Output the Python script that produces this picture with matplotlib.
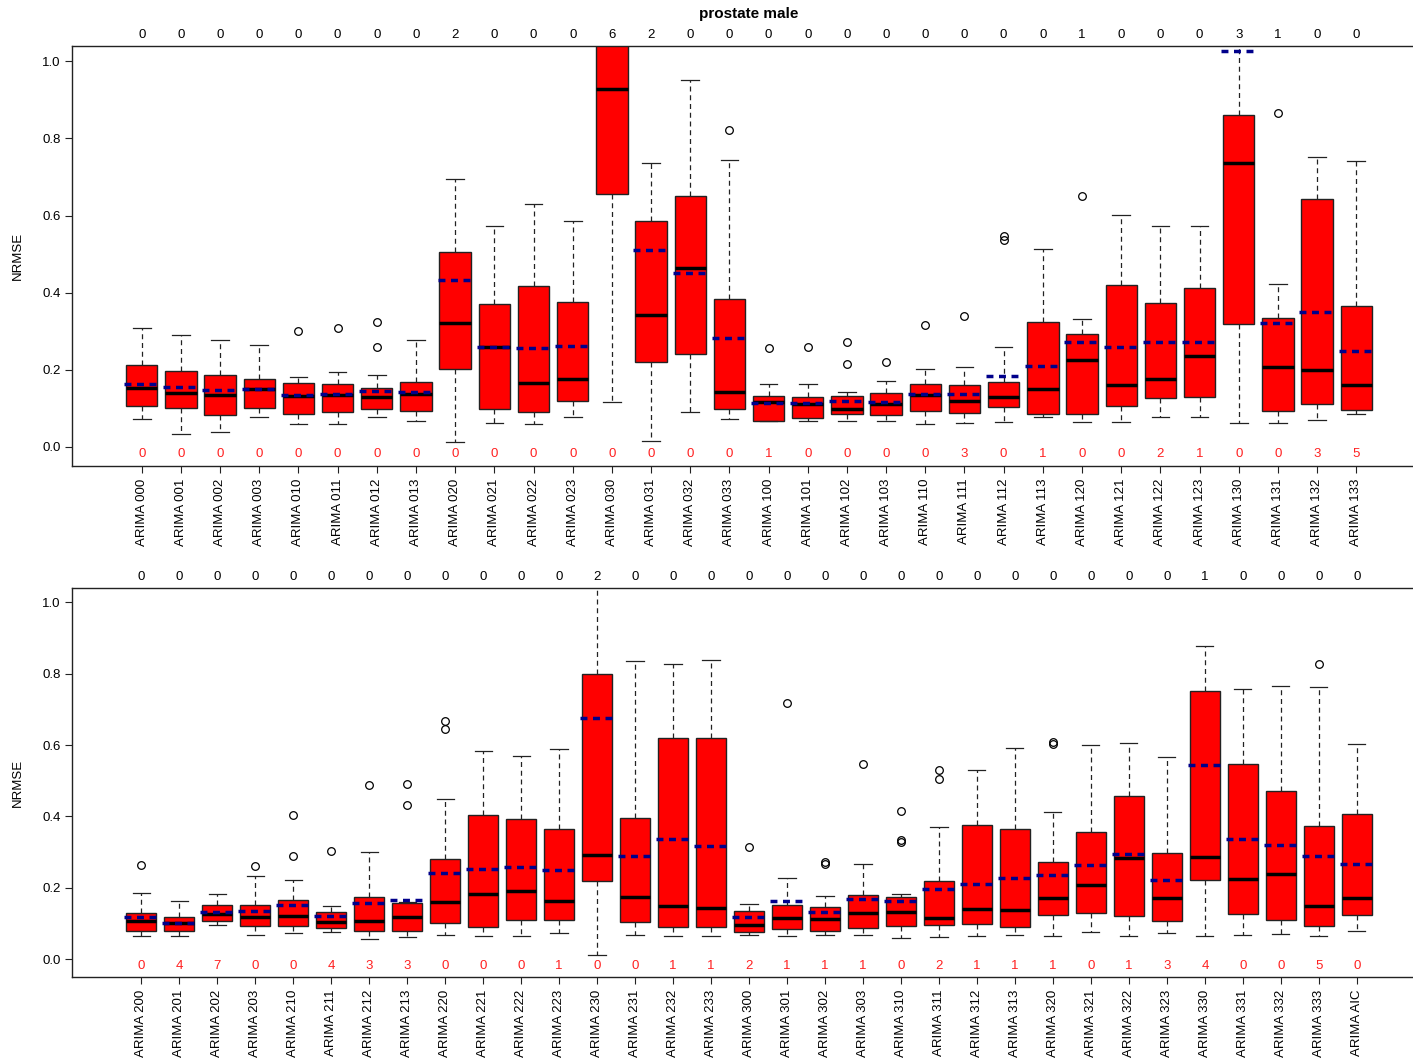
import numpy as np
import matplotlib
matplotlib.use('Agg')
import matplotlib.pyplot as plt
import matplotlib.transforms as mtransforms

plt.rcParams['font.family'] = ['Liberation Sans', 'DejaVu Sans']

# ---- top panel: ARIMA 0xx / 1xx ----
names_top = ['000', '001', '002', '003', '010', '011', '012', '013',
             '020', '021', '022', '023', '030', '031', '032', '033',
             '100', '101', '102', '103', '110', '111', '112', '113',
             '120', '121', '122', '123', '130', '131', '132', '133']
whishi_top = [0.307, 0.290, 0.278, 0.264, 0.180, 0.194, 0.186, 0.277,
              0.695, 0.574, 0.631, 0.587, 1.600, 0.736, 0.952, 0.744,
              0.163, 0.163, 0.143, 0.170, 0.202, 0.206, 0.260, 0.513,
              0.331, 0.602, 0.572, 0.574, 1.300, 0.423, 0.752, 0.741]
q3_top = [0.213, 0.197, 0.187, 0.176, 0.165, 0.164, 0.152, 0.168,
          0.505, 0.370, 0.417, 0.376, 1.120, 0.586, 0.650, 0.383,
          0.131, 0.128, 0.131, 0.139, 0.163, 0.160, 0.168, 0.323,
          0.292, 0.420, 0.374, 0.412, 0.861, 0.334, 0.644, 0.365]
med_top = [0.152, 0.139, 0.133, 0.150, 0.132, 0.133, 0.129, 0.138,
           0.321, 0.258, 0.165, 0.177, 0.928, 0.343, 0.464, 0.141,
           0.117, 0.110, 0.098, 0.112, 0.133, 0.118, 0.128, 0.150,
           0.226, 0.159, 0.177, 0.236, 0.737, 0.208, 0.198, 0.161]
mean_top = [0.163, 0.154, 0.148, 0.150, 0.133, 0.137, 0.144, 0.142,
            0.433, 0.258, 0.256, 0.261, 1.080, 0.511, 0.452, 0.283,
            0.114, 0.113, 0.119, 0.116, 0.138, 0.138, 0.184, 0.209,
            0.272, 0.258, 0.272, 0.273, 1.027, 0.322, 0.349, 0.248]
q1_top = [0.105, 0.101, 0.083, 0.100, 0.085, 0.090, 0.098, 0.094,
          0.203, 0.099, 0.091, 0.119, 0.656, 0.221, 0.240, 0.098,
          0.067, 0.075, 0.084, 0.083, 0.093, 0.087, 0.102, 0.086,
          0.086, 0.106, 0.127, 0.130, 0.318, 0.092, 0.110, 0.096]
whislo_top = [0.073, 0.034, 0.037, 0.076, 0.059, 0.059, 0.076, 0.068,
              0.013, 0.062, 0.060, 0.078, 0.115, 0.016, 0.089, 0.073,
              0.066, 0.067, 0.067, 0.068, 0.060, 0.061, 0.063, 0.078,
              0.063, 0.064, 0.078, 0.078, 0.061, 0.061, 0.070, 0.085]
fliers_top = [[], [], [], [], [0.301], [0.308], [0.323, 0.258], [],
              [], [], [], [], [], [], [], [0.822],
              [0.257], [0.260], [0.271, 0.214], [0.221], [0.315], [0.340], [0.546, 0.537], [],
              [0.650], [], [], [], [], [0.867], [], []]
above_top = [0, 0, 0, 0, 0, 0, 0, 0, 2, 0, 0, 0, 6, 2, 0, 0,
             0, 0, 0, 0, 0, 0, 0, 0, 1, 0, 0, 0, 3, 1, 0, 0]
below_top = [0, 0, 0, 0, 0, 0, 0, 0, 0, 0, 0, 0, 0, 0, 0, 0,
             1, 0, 0, 0, 0, 3, 0, 1, 0, 0, 2, 1, 0, 0, 3, 5]

# ---- bottom panel: ARIMA 2xx / 3xx / AIC ----
names_bot = ['200', '201', '202', '203', '210', '211', '212', '213',
             '220', '221', '222', '223', '230', '231', '232', '233',
             '300', '301', '302', '303', '310', '311', '312', '313',
             '320', '321', '322', '323', '330', '331', '332', '333', 'AIC']
whishi_bot = [0.184, 0.164, 0.182, 0.234, 0.222, 0.149, 0.299, 0.160,
              0.449, 0.582, 0.569, 0.589, 1.200, 0.835, 0.827, 0.838,
              0.155, 0.227, 0.176, 0.266, 0.183, 0.370, 0.530, 0.592,
              0.411, 0.601, 0.605, 0.566, 0.877, 0.758, 0.766, 0.762, 0.602]
q3_bot = [0.128, 0.119, 0.152, 0.151, 0.165, 0.131, 0.175, 0.158,
          0.280, 0.403, 0.392, 0.366, 0.800, 0.396, 0.619, 0.621,
          0.134, 0.153, 0.146, 0.181, 0.174, 0.219, 0.376, 0.365,
          0.273, 0.357, 0.458, 0.298, 0.750, 0.546, 0.472, 0.373, 0.406]
med_bot = [0.107, 0.100, 0.127, 0.117, 0.122, 0.105, 0.107, 0.117,
           0.159, 0.182, 0.190, 0.162, 0.292, 0.175, 0.148, 0.143,
           0.095, 0.114, 0.112, 0.129, 0.131, 0.114, 0.140, 0.139,
           0.170, 0.208, 0.283, 0.172, 0.287, 0.225, 0.238, 0.150, 0.170]
mean_bot = [0.117, 0.101, 0.132, 0.134, 0.153, 0.122, 0.156, 0.165,
            0.242, 0.252, 0.259, 0.249, 0.677, 0.289, 0.338, 0.317,
            0.118, 0.163, 0.131, 0.169, 0.164, 0.196, 0.210, 0.228,
            0.235, 0.263, 0.296, 0.221, 0.543, 0.338, 0.321, 0.289, 0.266]
q1_bot = [0.079, 0.079, 0.106, 0.094, 0.092, 0.087, 0.078, 0.080,
          0.100, 0.091, 0.109, 0.109, 0.220, 0.103, 0.091, 0.091,
          0.077, 0.085, 0.078, 0.088, 0.094, 0.096, 0.098, 0.091,
          0.124, 0.129, 0.120, 0.107, 0.223, 0.126, 0.111, 0.094, 0.125]
whislo_bot = [0.065, 0.066, 0.096, 0.069, 0.072, 0.076, 0.056, 0.061,
              0.067, 0.064, 0.064, 0.072, 0.011, 0.067, 0.064, 0.064,
              0.069, 0.065, 0.067, 0.068, 0.060, 0.063, 0.066, 0.069,
              0.064, 0.076, 0.064, 0.074, 0.064, 0.068, 0.070, 0.065, 0.078]
fliers_bot = [[0.263], [], [], [0.260], [0.404, 0.289], [0.303], [0.487], [0.492, 0.431],
              [0.667, 0.645], [], [], [], [], [], [], [],
              [0.314], [0.719], [0.273, 0.268], [0.548], [0.415, 0.335, 0.328],
              [0.529, 0.505], [], [],
              [0.608, 0.602], [], [], [], [], [], [], [0.827], []]
above_bot = [0, 0, 0, 0, 0, 0, 0, 0, 0, 0, 0, 0, 2, 0, 0, 0,
             0, 0, 0, 0, 0, 0, 0, 0, 0, 0, 0, 0, 1, 0, 0, 0, 0]
below_bot = [0, 4, 7, 0, 0, 4, 3, 3, 0, 0, 0, 1, 0, 0, 1, 1,
             2, 1, 1, 1, 0, 2, 1, 1, 1, 0, 1, 3, 4, 0, 0, 5, 0]

W, H = 1413, 1060
fig = plt.figure(figsize=(W / 100, H / 100), dpi=100)


def panel(rect, names, q1, med, q3, wlo, whi, means, fliers, above, below):
    ax = fig.add_axes(rect)
    n = len(names)
    pos = np.arange(n)
    stats = []
    for i in range(n):
        stats.append(dict(med=med[i], q1=q1[i], q3=q3[i], whislo=wlo[i],
                          whishi=whi[i], fliers=fliers[i]))
    ax.bxp(stats, positions=pos, widths=0.8, capwidths=0.45,
           patch_artist=True, showfliers=True,
           boxprops=dict(facecolor='#ff0000', edgecolor='#222222', linewidth=1.0),
           medianprops=dict(color='black', linewidth=2.5, solid_capstyle='butt'),
           whiskerprops=dict(color='#222222', linewidth=0.9, linestyle=(0, (4, 3))),
           capprops=dict(color='#222222', linewidth=0.9),
           flierprops=dict(marker='o', markerfacecolor='none',
                           markeredgecolor='black', markersize=5.5,
                           markeredgewidth=0.9))
    ax.hlines(means, pos - 0.45, pos + 0.45, colors='#00008b',
              linewidth=2.5, linestyles=(0, (2, 1.6)), zorder=4)

    ext = 0.04 * n
    ax.set_xlim(-0.5 - ext, n - 0.5 + ext)
    ax.set_ylim(-0.05, 1.04)
    ax.set_yticks([0.0, 0.2, 0.4, 0.6, 0.8, 1.0])
    ax.set_yticklabels(['0.0', '0.2', '0.4', '0.6', '0.8', '1.0'])
    ax.set_xticks(pos)
    ax.set_xticklabels(['ARIMA ' + s for s in names], rotation=90)
    ax.tick_params(axis='both', direction='out', length=5, width=0.8,
                   labelsize=9.5, color='#222222')
    ax.tick_params(axis='y', pad=3)
    ax.tick_params(axis='x', pad=4)
    for sp in ax.spines.values():
        sp.set_linewidth(1.0)
        sp.set_color('#222222')

    trans = mtransforms.blended_transform_factory(ax.transData, ax.transAxes)
    for i in range(n):
        ax.annotate(str(above[i]), (pos[i], 1.0), xycoords=trans,
                    xytext=(0, 8), textcoords='offset points',
                    ha='center', va='center', fontsize=9.5, color='black',
                    annotation_clip=False)
        ax.text(pos[i], -0.02, str(below[i]), ha='center', va='center',
                fontsize=9.5, color='#ff2020')
    ax.text(-0.040, 0.5, 'NRMSE', transform=ax.transAxes, rotation=90,
            ha='center', va='center', fontsize=9.5)
    return ax


left = 72 / W
width = (1426 - 72) / W
ax1 = panel([left, 1 - 466 / H, width, (466 - 46) / H], names_top,
            q1_top, med_top, q3_top, whislo_top, whishi_top, mean_top,
            fliers_top, above_top, below_top)
ax2 = panel([left, 1 - 977 / H, width, (977 - 588) / H], names_bot,
            q1_bot, med_bot, q3_bot, whislo_bot, whishi_bot, mean_bot,
            fliers_bot, above_bot, below_bot)

fig.text(749 / W, 1 - 14 / H, 'prostate male', ha='center', va='center',
         fontsize=11, fontweight='bold')

fig.savefig('out.png', dpi=100)
